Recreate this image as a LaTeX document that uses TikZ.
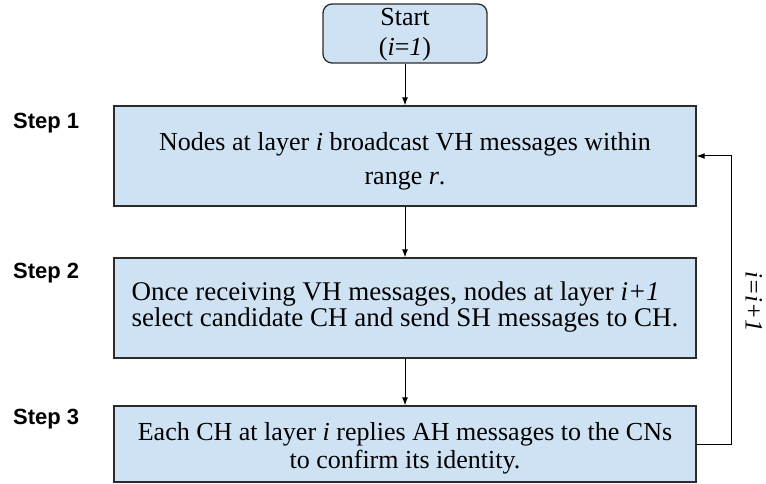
\documentclass[tikz,border=0pt]{standalone}
\usepackage{fontspec}
\setmainfont{Liberation Serif}
\newfontfamily\labelsans{Liberation Sans}
\usetikzlibrary{arrows.meta}
\definecolor{boxfill}{HTML}{CFE2F3}
\definecolor{boxline}{HTML}{2B2B2B}
\begin{document}
\begin{tikzpicture}[x=1pt,y=-1pt,
  stepbox/.style={draw=boxline, fill=boxfill, line width=1.3pt, minimum width=582pt,
    inner sep=0pt},
  steptext/.style={inner sep=0pt, font=\fontsize{26}{34}\selectfont},
  flow/.style={-{Latex[length=8pt,width=6pt]}, line width=1pt, draw=black},
  steplabel/.style={font=\labelsans\bfseries\fontsize{22}{26}\selectfont,
    anchor=base west, inner sep=0pt}]
\useasboundingbox (0,0) rectangle (766,484);

% start terminal
\node[stepbox, rounded corners=9pt, minimum width=164pt, minimum height=59pt]
  (start) at (405,33.5) {};
\node[steptext, align=center, font=\fontsize{26}{30}\selectfont] (tstart)
  at ([yshift=-1pt]start.center) {Start\\(\textit{i}=\textit{1})};

% the three protocol steps
\node[stepbox, minimum height=100pt] (s1) at (405,156) {};
\node[steptext, align=center] (t1) at ([yshift=-5pt]s1.center)
  {Nodes at layer \textit{i} broadcast VH messages within\\range \textit{r}.};

\node[stepbox, minimum height=100pt] (s2) at (405,308) {};
\node[steptext, align=left, font=\fontsize{27}{21.5}\selectfont] (t2)
  at ([yshift=1pt]s2.center)
  {Once receiving VH messages, nodes at layer \textit{i+1}\\select candidate CH and send SH messages to CH.};

\node[stepbox, minimum height=76pt] (s3) at (405,444) {};
\node[steptext, align=center, font=\fontsize{26}{28}\selectfont] (t3)
  at ([yshift=-4pt]s3.center)
  {Each CH at layer \textit{i} replies AH messages to the CNs\\to confirm its identity.};

% step captions
\node[steplabel] (l1) at (13,129) {Step 1};
\node[steplabel] (l2) at (13,278) {Step 2};
\node[steplabel] (l3) at (13,424) {Step 3};

% flow
\draw[flow] (start) -- (s1);
\draw[flow] (s1) -- (s2);
\draw[flow] (s2) -- (s3);

% loop back to the next layer
\coordinate (loop) at (731,300);
\draw[flow] (s3.east) -- (s3.east -| loop) |- (s1.east);
\node[rotate=-90, inner sep=0pt, font=\fontsize{25}{30}\selectfont\itshape] (inc)
  at (754,302) {i=i+1};
\end{tikzpicture}
\end{document}
